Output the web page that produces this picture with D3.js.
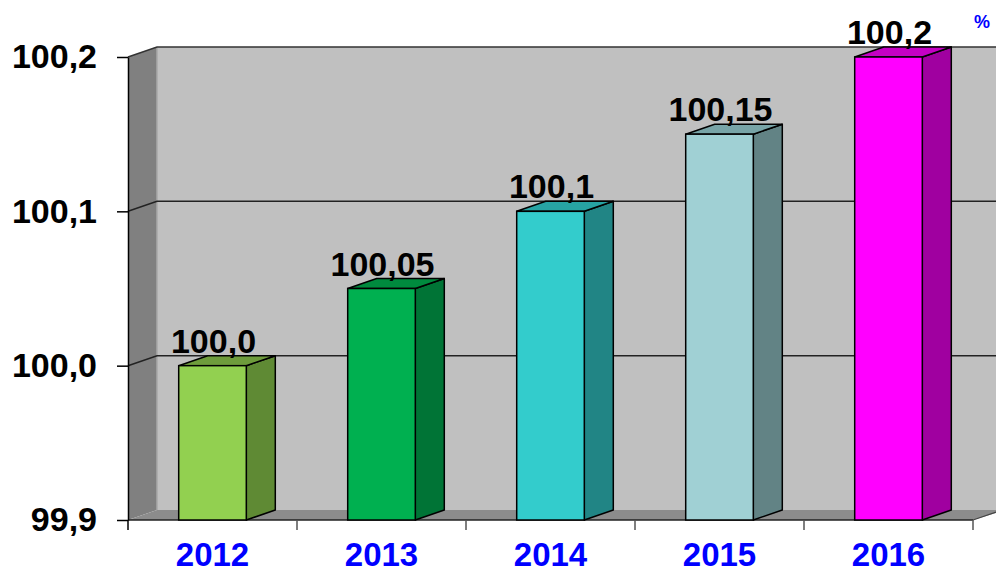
<!DOCTYPE html>
<html>
<head>
  <meta charset="utf-8">
  <title>3D bar chart</title>
  <script src="https://d3js.org/d3.v7.min.js"></script>
  <style>
    body{margin:0;background:#fff;}
    text{font-family:"Liberation Sans",Arial,sans-serif;font-weight:bold;}
  </style>
</head>
<body>
  <script>
      var w=996, h=574;
      var years=["2012","2013","2014","2015","2016"];
      var values=[100.0,100.05,100.1,100.15,100.2];
      var valueLabels=["100,0","100,05","100,1","100,15","100,2"];
      var yTicks=[99.9,100.0,100.1,100.2];
      var yTickLabels=["99,9","100,0","100,1","100,2"];
      var frontColors=["#92d050","#00b050","#33cccc","#a0d0d4","#ff00ff"];
      var topColors=["#6e9c3c","#008a3e","#27a3a3","#78a4a7","#c400c4"];
      var sideColors=["#5f8a34","#007436","#218585","#628385","#a000a0"];

      // plot box (front plane) and depth offset
      var plotL=128, plotR=973, plotT=57, plotB=520;
      var dx=29, dy=10;

      var svg=d3.select("body").append("svg")
                .attr("width",w).attr("height",h);

      var x=d3.scaleBand().domain(years).range([plotL,plotR]).padding(0);
      var y=d3.scaleLinear().domain([99.9,100.2]).range([plotB,plotT]);
      var barW=x.bandwidth()*0.4;

      // walls
      svg.append("rect")
         .attr("x",plotL+dx).attr("y",plotT-dy)
         .attr("width",w-plotL).attr("height",plotB-plotT)
         .attr("fill","#c0c0c0");
      svg.append("polygon")
         .attr("points",[[plotL,plotT],[plotL+dx,plotT-dy],[plotL+dx,plotB-dy],[plotL,plotB]].join(" "))
         .attr("fill","#808080");
      svg.append("line")
         .attr("x1",plotL+dx).attr("x2",plotL+dx).attr("y1",plotT-dy).attr("y2",plotB-dy)
         .attr("stroke","#a8a8a8").attr("stroke-width",1.5);
      svg.append("polygon")
         .attr("points",[[plotL,plotB],[plotL+dx,plotB-dy],[w+10,plotB-dy],[plotR,plotB]].join(" "))
         .attr("fill","#8c8c8c");
      svg.append("path")
         .attr("d","M"+plotL+","+plotT+"L"+(plotL+dx)+","+(plotT-dy)+"L"+(w+10)+","+(plotT-dy))
         .attr("fill","none").attr("stroke","#333").attr("stroke-width",1.5);

      // gridlines
      svg.selectAll(".grid")
         .data(yTicks.slice(1,-1))
         .enter().append("path")
         .attr("class","grid")
         .attr("d",function(d){
           var yy=y(d);
           return "M"+plotL+","+yy+"L"+(plotL+dx)+","+(yy-dy)+"L"+(w+10)+","+(yy-dy);
         })
         .attr("fill","none").attr("stroke","#222").attr("stroke-width",1.5);

      // floor front edge + category ticks
      svg.append("line")
         .attr("x1",plotL).attr("x2",plotR).attr("y1",plotB).attr("y2",plotB)
         .attr("stroke","#222").attr("stroke-width",1.5);
      svg.selectAll(".xtick")
         .data(years.concat(["end"]))
         .enter().append("line")
         .attr("x1",function(d,i){return plotL+i*x.step();})
         .attr("x2",function(d,i){return plotL+i*x.step();})
         .attr("y1",plotB).attr("y2",plotB+10)
         .attr("stroke",function(d,i){return i===0?"#000":"#555";})
         .attr("stroke-width",1.5);
      svg.append("path")
         .attr("d","M"+plotR+","+plotB+"L"+(plotR+dx)+","+(plotB-dy))
         .attr("stroke","#444").attr("stroke-width",1.2);

      // bars
      var bars=svg.selectAll(".bar")
         .data(values)
         .enter().append("g").attr("class","bar");
      function bx(d,i){return x(years[i])+x.bandwidth()/2-barW/2;}
      bars.append("polygon")
         .attr("points",function(d,i){
           var x0=bx(d,i)+barW, y0=y(d);
           return [[x0,y0],[x0+dx,y0-dy],[x0+dx,plotB-dy],[x0,plotB]].join(" ");
         })
         .attr("fill",function(d,i){return sideColors[i];})
         .attr("stroke","#000").attr("stroke-width",1.5).attr("stroke-linejoin","round");
      bars.append("polygon")
         .attr("points",function(d,i){
           var x0=bx(d,i), y0=y(d);
           return [[x0,y0],[x0+dx,y0-dy],[x0+barW+dx,y0-dy],[x0+barW,y0]].join(" ");
         })
         .attr("fill",function(d,i){return topColors[i];})
         .attr("stroke","#000").attr("stroke-width",1.5).attr("stroke-linejoin","round");
      bars.append("rect")
         .attr("x",bx)
         .attr("y",function(d){return y(d);})
         .attr("width",barW)
         .attr("height",function(d){return plotB-y(d);})
         .attr("fill",function(d,i){return frontColors[i];})
         .attr("stroke","#000").attr("stroke-width",1.5);
      bars.append("text")
         .text(function(d,i){return valueLabels[i];})
         .attr("x",function(d,i){return x(years[i])+x.bandwidth()/2+1;})
         .attr("y",function(d){return y(d)-13;})
         .attr("text-anchor","middle")
         .attr("font-size",34)
         .attr("fill","#000");

      // y axis
      var yAxis=d3.axisLeft(y)
         .tickValues(yTicks)
         .tickFormat(function(d,i){return yTickLabels[i];})
         .tickSize(11).tickSizeOuter(0).tickPadding(20);
      var gy=svg.append("g").attr("transform","translate("+plotL+",0)").call(yAxis);
      gy.select(".domain").attr("stroke","#000").attr("stroke-width",1.5);
      gy.selectAll(".tick line").attr("stroke","#000").attr("stroke-width",1.5);
      gy.selectAll("text").attr("font-size",34).attr("fill","#000")
        .style("font-family","'Liberation Sans',Arial,sans-serif").style("font-weight","bold");

      // x axis labels
      var xAxis=d3.axisBottom(x).tickSize(0).tickPadding(23);
      var gx=svg.append("g").attr("transform","translate(0,"+plotB+")").call(xAxis);
      gx.select(".domain").remove();
      gx.selectAll("text").attr("font-size",33).attr("fill","#0000ff")
        .style("font-family","'Liberation Sans',Arial,sans-serif").style("font-weight","bold");

      svg.append("text")
         .text("%")
         .attr("x",982).attr("y",28)
         .attr("text-anchor","middle")
         .attr("font-size",18)
         .attr("fill","#0000ff");
  </script>
</body>
</html>
